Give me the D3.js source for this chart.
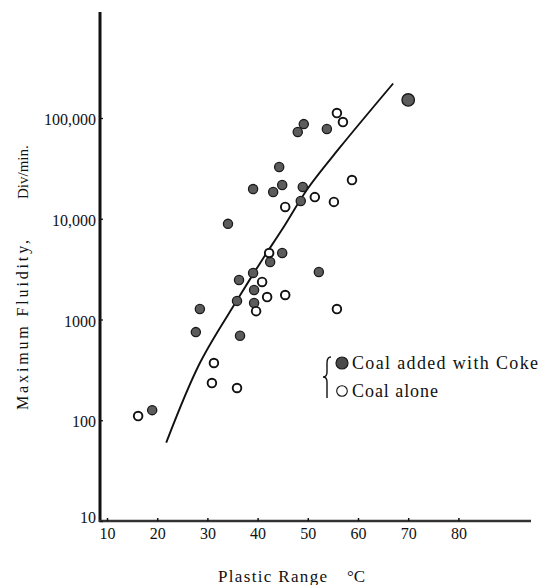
<!DOCTYPE html>
<html>
<head>
<meta charset="utf-8">
<script src="https://cdn.jsdelivr.net/npm/d3@7"></script>
<style>
  body { margin: 0; background: #fff; }
  svg text { font-family: "Liberation Serif", "Times New Roman", Times, "DejaVu Serif", "Noto Serif", serif !important; fill: #111; }
</style>
</head>
<body>
<svg id="chart" width="539" height="585"></svg>
<script>
// Axis ticks
const xTicks = [10, 20, 30, 40, 50, 60, 70, 80];
const yTicks = [10, 100, 1000, 10000, 100000];
const yTickLabels = ["10", "100", "1000", "10,000", "100,000"];

// Coal added with coke (filled markers): plastic range °C, max fluidity div/min
const cokeX = [49.2, 48.0, 53.8, 44.3, 44.9, 39.1, 43.1, 49.0, 48.6, 34.1, 44.9, 42.5,
               39.1, 36.3, 39.3, 35.9, 39.3, 28.5, 27.7, 36.5, 52.2, 19.0];
const cokeY = [87000, 72600, 77800, 32600, 21600, 19700, 18400, 20700, 15000, 8900, 4570, 3720,
               2900, 2470, 1960, 1530, 1460, 1270, 750, 690, 2960, 126];
// the single large marker at the top right
const cokeLargeX = [70.0];
const cokeLargeY = [151000];

// Coal alone (open markers)
const aloneX = [55.8, 57.0, 45.5, 51.4, 55.2, 58.8, 42.3, 40.9, 41.9, 45.5, 39.7, 55.8,
                31.3, 30.9, 35.9, 16.2];
const aloneY = [112000, 91200, 13100, 16400, 14700, 24200, 4570, 2360, 1670, 1750, 1210, 1270,
                370, 234, 209, 110];

// Trend curve
const curveX = [21.8, 28.5, 35.9, 40.9, 45.0, 50.0, 56.4, 67.0];
const curveY = [60, 370, 1550, 3900, 8000, 20000, 51000, 220000];

const serif = '"Liberation Serif", "Times New Roman", Times, "DejaVu Serif", "Noto Serif", serif';
const ink = "#111";

const svg = d3.select("#chart");

const x = d3.scaleLinear().domain([10, 80]).range([107, 458.4]);
const y = d3.scaleLog().domain([10, 100000]).range([521, 118]);

// Axis lines
svg.append("line")
  .attr("x1", 100).attr("x2", 100).attr("y1", 12).attr("y2", 522)
  .attr("stroke", ink).attr("stroke-width", 3);
svg.append("line")
  .attr("x1", 99).attr("x2", 531).attr("y1", 521).attr("y2", 521)
  .attr("stroke", "#333").attr("stroke-width", 2.6);

// Bottom axis
const xAxis = d3.axisBottom(x)
  .tickValues(xTicks)
  .tickFormat(d3.format("d"))
  .tickSizeInner(-3).tickSizeOuter(0).tickPadding(7);
const gx = svg.append("g").attr("transform", "translate(0,521)").call(xAxis)
  .attr("font-family", serif).attr("font-size", 16);
gx.select(".domain").remove();
gx.selectAll(".tick line").attr("stroke", ink).attr("stroke-width", 1.5);
gx.selectAll(".tick text").style("font-family", serif).style("font-size", "16px").style("fill", ink);

// Left axis
const yAxis = d3.axisLeft(y)
  .tickValues(yTicks)
  .tickFormat((d, i) => yTickLabels[i])
  .tickSizeInner(-3).tickSizeOuter(0).tickPadding(4);
const gy = svg.append("g").attr("transform", "translate(100,0)").call(yAxis)
  .attr("font-family", serif).attr("font-size", 16);
gy.select(".domain").remove();
gy.selectAll(".tick line").attr("stroke", ink).attr("stroke-width", 1.3);
gy.selectAll(".tick text").attr("dy", "0.42em")
  .style("font-family", serif).style("font-size", "16px").style("fill", ink);
// the "10" label sits just above the bottom axis
gy.selectAll(".tick text").filter(d => d === 10).attr("dy", "0.1em");

// Trend curve
const line = d3.line()
  .x(d => x(d[0])).y(d => y(d[1]))
  .curve(d3.curveCatmullRom.alpha(0.5));
svg.append("path")
  .datum(d3.zip(curveX, curveY))
  .attr("d", line)
  .attr("fill", "none").attr("stroke", ink).attr("stroke-width", 1.9);

// Markers
svg.append("g").selectAll("circle")
  .data(d3.zip(cokeX, cokeY))
  .join("circle")
  .attr("cx", d => x(d[0])).attr("cy", d => y(d[1])).attr("r", 4.6)
  .attr("fill", "#5c5c5c").attr("stroke", "#1a1a1a").attr("stroke-width", 1.3);

svg.append("g").selectAll("circle")
  .data(d3.zip(cokeLargeX, cokeLargeY))
  .join("circle")
  .attr("cx", d => x(d[0])).attr("cy", d => y(d[1])).attr("r", 6.2)
  .attr("fill", "#5c5c5c").attr("stroke", "#1a1a1a").attr("stroke-width", 1.4);

svg.append("g").selectAll("circle")
  .data(d3.zip(aloneX, aloneY))
  .join("circle")
  .attr("cx", d => x(d[0])).attr("cy", d => y(d[1])).attr("r", 4.3)
  .attr("fill", "#fff").attr("stroke", ink).attr("stroke-width", 1.9);

// Text helper with the serif face applied inline
function label(parent) {
  return parent.append("text").style("font-family", serif).style("fill", ink);
}

// Legend
const lg = svg.append("g");
lg.append("path")
  .attr("d", "M331,357 Q327,357 327,363 L327,372 Q327,377 323,377 Q327,377 327,382 L327,398")
  .attr("fill", "none").attr("stroke", ink).attr("stroke-width", 1.4);
lg.append("circle").attr("cx", 342).attr("cy", 363).attr("r", 6)
  .attr("fill", "#4a4a4a").attr("stroke", "#1a1a1a").attr("stroke-width", 1.2);
label(lg).attr("x", 352).attr("y", 369).style("font-size", "18px")
  .attr("textLength", 186).attr("lengthAdjust", "spacing")
  .text("Coal added with Coke");
lg.append("circle").attr("cx", 342).attr("cy", 391).attr("r", 5.3)
  .attr("fill", "#fff").attr("stroke", ink).attr("stroke-width", 1.1);
label(lg).attr("x", 352).attr("y", 397).style("font-size", "18px")
  .attr("textLength", 86).attr("lengthAdjust", "spacing")
  .text("Coal alone");

// Axis titles
label(svg).attr("transform", "translate(28,410) rotate(-90)")
  .style("font-size", "16px")
  .attr("textLength", 170).attr("lengthAdjust", "spacing")
  .text("Maximum Fluidity,");
label(svg).attr("transform", "translate(28,199) rotate(-90)")
  .style("font-size", "15px")
  .text("Div/min.");

label(svg).attr("x", 218).attr("y", 582).style("font-size", "17px")
  .attr("textLength", 109).attr("lengthAdjust", "spacing")
  .text("Plastic Range");
label(svg).attr("x", 347).attr("y", 582).style("font-size", "17px")
  .text("°C");
</script>
</body>
</html>
